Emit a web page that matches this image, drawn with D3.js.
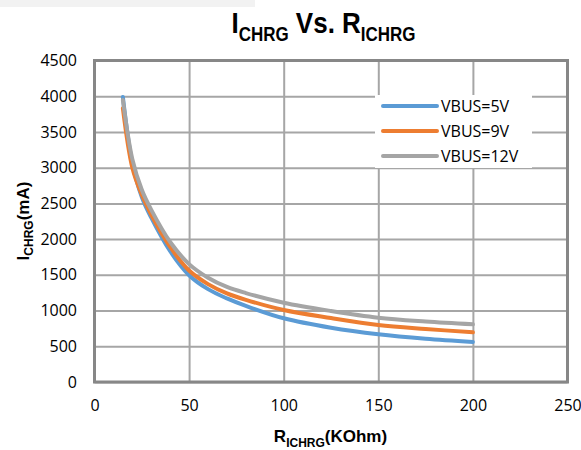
<!DOCTYPE html>
<html>
<head>
<meta charset="utf-8">
<script src="https://cdn.jsdelivr.net/npm/d3@7"></script>
<style>
  body { margin: 0; background: #fff; }
  svg { display: block; }
</style>
</head>
<body>
<svg></svg>
<script>
// data
const rValues = [15, 20, 25, 30, 40, 50, 60, 70, 80, 100, 125, 150, 175, 200]
const vbus5 = [3990, 3060, 2590, 2300, 1830, 1495, 1300, 1170, 1065, 892, 760, 668, 605, 560]
const vbus9 = [3832, 3000, 2620, 2340, 1890, 1560, 1370, 1240, 1150, 1008, 895, 798, 742, 696]
const vbus12 = [3948, 3120, 2690, 2410, 1960, 1650, 1460, 1330, 1245, 1110, 994, 900, 847, 808]
const seriesNames = ['VBUS=5V', 'VBUS=9V', 'VBUS=12V']
const xTicks = [0, 50, 100, 150, 200, 250]
const yTicks = [0, 500, 1000, 1500, 2000, 2500, 3000, 3500, 4000, 4500]

const w = 581
const h = 450
const plotL = 94.5, plotR = 567.5, plotT = 60.5, plotB = 382
const colors = ['#5b9bd5', '#ed7d31', '#a5a5a5']
const tickFont = '"Open Sans", sans-serif'
const boldFont = '"Liberation Sans", Arial, sans-serif'

let svg = d3.select('svg').attr('width', w).attr('height', h)

// light band at top left
svg.append('rect')
  .attr('x', 0).attr('y', 0)
  .attr('width', 255).attr('height', 7)
  .attr('fill', '#f2f2f2')

let xScale = d3.scaleLinear().domain([0, 250]).range([plotL, plotR])
let yScale = d3.scaleLinear().domain([0, 4500]).range([plotB, plotT])

// grid + tick labels
let xAxis = svg.append('g')
  .attr('transform', 'translate(0,' + plotB + ')')
  .call(d3.axisBottom(xScale).tickValues(xTicks).tickFormat(d3.format('d'))
    .tickSize(-(plotB - plotT)).tickPadding(17.6))
let yAxis = svg.append('g')
  .attr('transform', 'translate(' + plotL + ',0)')
  .call(d3.axisLeft(yScale).tickValues(yTicks).tickFormat(d3.format('d'))
    .tickSize(-(plotR - plotL)).tickPadding(17.5))

;[xAxis, yAxis].forEach((g) => {
  g.select('.domain').remove()
  g.selectAll('.tick line').attr('stroke', '#a6a6a6').attr('stroke-width', 2)
  g.selectAll('.tick text')
    .attr('font-family', tickFont)
    .attr('font-size', 16)
    .attr('fill', '#000')
})

// plot border
svg.append('rect')
  .attr('x', plotL).attr('y', plotT)
  .attr('width', plotR - plotL).attr('height', plotB - plotT)
  .attr('fill', 'none')
  .attr('stroke', '#878787')
  .attr('stroke-width', 3)

// series lines
let allSeries = [vbus5, vbus9, vbus12]
let line = d3.line()
  .x((d, i) => xScale(rValues[i]))
  .y((d) => yScale(d))
  .curve(d3.curveCatmullRom.alpha(0.5))

allSeries.forEach((s, k) => {
  svg.append('path')
    .datum(s)
    .attr('d', line)
    .attr('fill', 'none')
    .attr('stroke', colors[k])
    .attr('stroke-width', 4)
    .attr('stroke-linecap', 'round')
    .attr('stroke-linejoin', 'round')
})

// legend
let legend = svg.append('g')
legend.append('rect')
  .attr('x', 375).attr('y', 95)
  .attr('width', 157).attr('height', 73)
  .attr('fill', '#fff')
seriesNames.forEach((name, k) => {
  let y = 106 + k * 25
  legend.append('line')
    .attr('x1', 383).attr('x2', 437)
    .attr('y1', y).attr('y2', y)
    .attr('stroke', colors[k])
    .attr('stroke-width', 4)
    .attr('stroke-linecap', 'round')
  legend.append('text')
    .attr('x', 441).attr('y', y)
    .attr('dy', '0.36em')
    .attr('font-family', tickFont)
    .attr('font-size', 16)
    .text(name)
})

// subscripted label helper
let subLabel = (g, main1, sub1, main2, sub2, size, subSize, shift) => {
  let t = g.append('text')
    .attr('text-anchor', 'middle')
    .attr('font-family', boldFont)
    .attr('font-weight', 'bold')
    .attr('font-size', size)
  t.append('tspan').text(main1)
  t.append('tspan').attr('font-size', subSize).attr('dy', shift).text(sub1)
  if (main2 !== null) {
    t.append('tspan').attr('dy', -shift).text(main2)
    if (sub2 !== null) t.append('tspan').attr('font-size', subSize).attr('dy', shift).text(sub2)
  }
  return t
}

// title
let titleG = svg.append('g').attr('transform', 'translate(323.5,33.3) scale(1,1.15)')
subLabel(titleG, 'I', 'CHRG', ' Vs. R', 'ICHRG', 26, 17, 6.7)

// x axis title
let xTitleG = svg.append('g').attr('transform', 'translate(330.5,442)')
subLabel(xTitleG, 'R', 'ICHRG', '(KOhm)', null, 17, 12, 4.5)

// y axis title
let yTitleG = svg.append('g').attr('transform', 'translate(28.5,221) rotate(-90)')
subLabel(yTitleG, 'I', 'CHRG', '(mA)', null, 17, 12, 4.5)
</script>
</body>
</html>
